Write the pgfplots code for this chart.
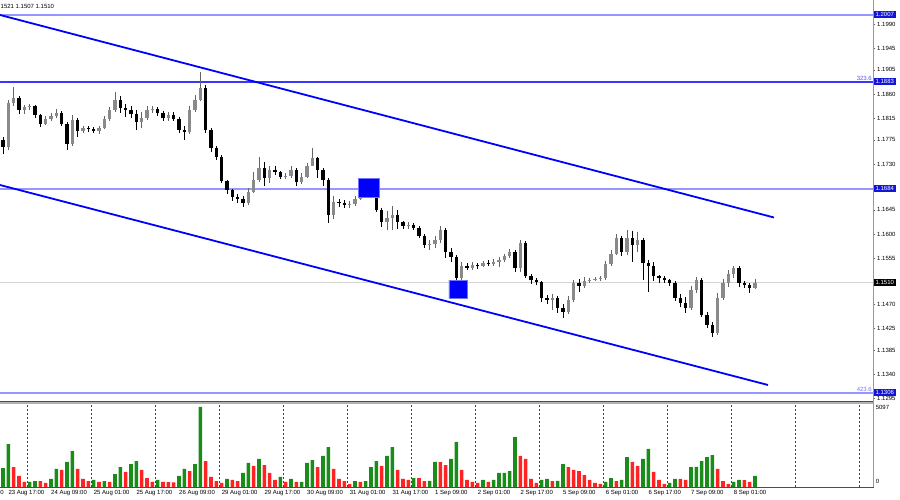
\documentclass[border=0pt]{standalone}
\usepackage{pgfplots}
\pgfplotsset{compat=1.18}
\usepackage{pgfplotstable}
\usepackage{fontspec}
\setmainfont{Liberation Sans}
\definecolor{lvl}{RGB}{150,150,255}
\definecolor{lvlstrong}{RGB}{55,55,255}
\definecolor{chan}{RGB}{0,0,255}
\definecolor{boxblue}{RGB}{20,20,215}
\definecolor{vgreen}{RGB}{25,140,25}
\definecolor{vred}{RGB}{255,35,35}
\definecolor{bullc}{RGB}{138,138,138}
\definecolor{bullw}{RGB}{100,100,100}
\definecolor{lastgray}{RGB}{212,212,212}
\newcommand{\fs}{\fontsize{6}{7}\selectfont}
% bullish (close >= open) candles
\pgfplotstableread{
j o h l c
1 1.1762 1.1849 1.1756 1.1843
2 1.1843 1.1873 1.1838 1.1853
4 1.1830 1.1840 1.1823 1.1836
5 1.1836 1.1841 1.1830 1.1838
8 1.1804 1.1819 1.1803 1.1814
9 1.1814 1.1825 1.1810 1.1819
10 1.1819 1.1832 1.1816 1.1825
13 1.1767 1.1821 1.1764 1.1812
15 1.1791 1.1801 1.1788 1.1797
18 1.1791 1.1801 1.1786 1.1797
19 1.1797 1.1819 1.1795 1.1814
20 1.1814 1.1836 1.1810 1.1830
21 1.1830 1.1864 1.1827 1.1849
26 1.1808 1.1827 1.1797 1.1816
27 1.1816 1.1838 1.1812 1.1830
28 1.1830 1.1838 1.1825 1.1832
31 1.1816 1.1827 1.1810 1.1821
35 1.1790 1.1838 1.1786 1.1830
36 1.1830 1.1858 1.1827 1.1849
37 1.1849 1.1901 1.1847 1.1871
46 1.1658 1.1686 1.1654 1.1678
47 1.1678 1.1715 1.1676 1.1700
48 1.1700 1.1743 1.1697 1.1723
50 1.1704 1.1726 1.1695 1.1719
53 1.1706 1.1713 1.1702 1.1708
54 1.1708 1.1726 1.1704 1.1719
56 1.1697 1.1713 1.1693 1.1706
57 1.1706 1.1732 1.1704 1.1726
58 1.1726 1.1760 1.1726 1.1741
62 1.1636 1.1671 1.1628 1.1660
65 1.1654 1.1661 1.1648 1.1656
66 1.1656 1.1671 1.1652 1.1665
67 1.1665 1.1682 1.1663 1.1676
68 1.1676 1.1693 1.1673 1.1686
72 1.1622 1.1643 1.1608 1.1630
73 1.1630 1.1652 1.1608 1.1636
76 1.1615 1.1622 1.1609 1.1617
80 1.1580 1.1589 1.1571 1.1582
81 1.1582 1.1596 1.1574 1.1589
82 1.1589 1.1615 1.1583 1.1608
86 1.1519 1.1548 1.1515 1.1541
88 1.1537 1.1548 1.1533 1.1543
90 1.1541 1.1550 1.1539 1.1546
92 1.1545 1.1554 1.1541 1.1548
93 1.1548 1.1558 1.1539 1.1552
94 1.1552 1.1563 1.1548 1.1559
95 1.1559 1.1572 1.1556 1.1567
97 1.1537 1.1589 1.1530 1.1583
103 1.1478 1.1489 1.1459 1.1481
106 1.1455 1.1485 1.1452 1.1478
107 1.1478 1.1515 1.1474 1.1509
109 1.1504 1.1520 1.1500 1.1513
110 1.1513 1.1519 1.1509 1.1515
111 1.1515 1.1520 1.1513 1.1517
112 1.1517 1.1522 1.1513 1.1519
113 1.1519 1.1550 1.1515 1.1545
114 1.1545 1.1571 1.1541 1.1563
115 1.1563 1.1600 1.1561 1.1593
117 1.1567 1.1608 1.1561 1.1593
119 1.1580 1.1604 1.1567 1.1589
129 1.1463 1.1504 1.1459 1.1496
130 1.1496 1.1520 1.1491 1.1515
134 1.1416 1.1491 1.1413 1.1481
135 1.1481 1.1517 1.1478 1.1509
136 1.1509 1.1533 1.1502 1.1526
137 1.1526 1.1541 1.1519 1.1537
141 1.1500 1.1517 1.1498 1.1510
}\bull
% bearish (close < open) candles
\pgfplotstableread{
j o h l c
0 1.1775 1.1780 1.1749 1.1762
3 1.1853 1.1856 1.1823 1.1830
6 1.1838 1.1840 1.1816 1.1821
7 1.1821 1.1823 1.1799 1.1804
11 1.1825 1.1829 1.1801 1.1804
12 1.1804 1.1808 1.1756 1.1767
14 1.1812 1.1816 1.1780 1.1791
16 1.1797 1.1801 1.1790 1.1795
17 1.1795 1.1799 1.1788 1.1791
22 1.1849 1.1856 1.1825 1.1834
23 1.1834 1.1841 1.1817 1.1830
24 1.1830 1.1838 1.1816 1.1823
25 1.1823 1.1830 1.1793 1.1808
29 1.1832 1.1836 1.1819 1.1825
30 1.1825 1.1829 1.1810 1.1816
32 1.1821 1.1827 1.1810 1.1814
33 1.1814 1.1817 1.1788 1.1793
34 1.1793 1.1801 1.1775 1.1790
38 1.1871 1.1877 1.1788 1.1793
39 1.1793 1.1797 1.1752 1.1760
40 1.1760 1.1764 1.1738 1.1743
41 1.1743 1.1747 1.1695 1.1699
42 1.1699 1.1700 1.1674 1.1682
43 1.1682 1.1684 1.1661 1.1669
44 1.1669 1.1674 1.1658 1.1665
45 1.1665 1.1671 1.1650 1.1658
49 1.1723 1.1734 1.1689 1.1704
51 1.1719 1.1726 1.1710 1.1715
52 1.1715 1.1717 1.1702 1.1706
55 1.1719 1.1723 1.1689 1.1697
59 1.1741 1.1743 1.1704 1.1719
60 1.1719 1.1723 1.1689 1.1700
61 1.1700 1.1704 1.1621 1.1636
63 1.1660 1.1665 1.1650 1.1658
64 1.1658 1.1663 1.1648 1.1654
69 1.1686 1.1695 1.1676 1.1682
70 1.1682 1.1687 1.1641 1.1645
71 1.1645 1.1648 1.1613 1.1622
74 1.1636 1.1645 1.1609 1.1622
75 1.1622 1.1624 1.1609 1.1615
77 1.1617 1.1621 1.1608 1.1611
78 1.1611 1.1615 1.1593 1.1596
79 1.1596 1.1600 1.1574 1.1580
83 1.1608 1.1611 1.1556 1.1567
84 1.1567 1.1574 1.1548 1.1558
85 1.1558 1.1561 1.1502 1.1519
87 1.1541 1.1546 1.1533 1.1537
89 1.1543 1.1546 1.1535 1.1541
91 1.1546 1.1552 1.1541 1.1545
96 1.1567 1.1571 1.1530 1.1537
98 1.1583 1.1587 1.1519 1.1522
99 1.1522 1.1526 1.1507 1.1515
100 1.1515 1.1519 1.1506 1.1511
101 1.1511 1.1513 1.1474 1.1481
102 1.1481 1.1487 1.1470 1.1478
104 1.1481 1.1485 1.1454 1.1463
105 1.1463 1.1470 1.1444 1.1455
108 1.1509 1.1517 1.1493 1.1504
116 1.1593 1.1596 1.1559 1.1567
118 1.1593 1.1606 1.1548 1.1580
120 1.1589 1.1593 1.1515 1.1546
121 1.1546 1.1552 1.1493 1.1541
122 1.1541 1.1548 1.1513 1.1522
123 1.1522 1.1524 1.1509 1.1519
124 1.1519 1.1522 1.1509 1.1515
125 1.1515 1.1517 1.1504 1.1509
126 1.1509 1.1513 1.1476 1.1481
127 1.1481 1.1489 1.1465 1.1472
128 1.1472 1.1483 1.1454 1.1463
131 1.1515 1.1519 1.1446 1.1450
132 1.1450 1.1455 1.1426 1.1431
133 1.1431 1.1437 1.1409 1.1416
138 1.1537 1.1541 1.1502 1.1509
139 1.1509 1.1513 1.1500 1.1506
140 1.1506 1.1509 1.1491 1.1500
}\bear
% volumes: rising (green)
\pgfplotstableread{
j v
0 1210
1 2739
5 330
6 382
9 510
10 1147
12 1593
13 2293
17 446
19 382
21 828
22 1274
24 1465
25 1656
29 446
33 701
34 1147
36 1465
37 5097
42 510
45 892
46 1529
48 1784
52 637
54 510
56 330
57 1529
58 1720
60 1975
61 2548
66 382
68 382
69 1274
70 1656
72 1975
73 2548
77 573
80 390
81 1593
84 1784
85 2867
90 446
92 446
93 892
94 900
95 1019
96 3185
101 446
102 510
104 390
105 1465
113 319
114 573
116 446
117 1911
120 1784
121 2421
125 255
126 510
129 1274
130 1290
131 1656
132 1911
133 2038
137 319
138 446
141 701
}\volup
% volumes: falling (red)
\pgfplotstableread{
j v
2 1274
3 701
4 319
7 370
8 255
11 1083
14 1147
15 510
16 382
18 319
20 319
23 956
26 1083
27 573
28 319
30 319
31 310
32 300
35 1019
38 1656
39 637
40 382
41 255
43 446
44 382
47 1338
49 1401
50 892
51 446
53 319
55 319
59 1274
62 1147
63 510
64 382
65 191
67 319
71 1338
74 1083
75 510
76 446
78 573
79 382
82 1580
83 1401
86 1083
87 446
88 319
89 255
91 319
97 1975
98 1784
99 510
100 255
103 382
106 1274
107 1083
108 1019
109 764
110 446
111 255
112 191
115 382
118 1593
119 1338
122 956
123 446
124 191
127 510
128 446
134 1147
135 382
136 191
139 440
140 319
}\voldown
\begin{document}
\begin{tikzpicture}
\useasboundingbox (0pt,0pt) rectangle (900pt,500pt);
% ---------------- price panel ----------------
\begin{axis}[
  at={(0pt,500pt)}, anchor=north west,
  scale only axis, width=873pt, height=401pt,
  xmin=-0.5625, xmax=163.125, ymin=1.12904, ymax=1.20345,
  axis line style={draw=none},
  xtick=\empty,
  minor xtick={4.63,16.63,28.63,40.63,52.63,64.63,76.63,88.63,100.63,112.63,124.63,136.63,148.63,160.63},
  xminorgrids, minor tick length=0pt,
  minor grid style={black!75, line width=0.5pt, dash pattern=on 2pt off 2pt},
  ytick={1.1990,1.1945,1.1905,1.1860,1.1815,1.1775,1.1730,1.1645,1.1600,1.1555,1.1470,1.1425,1.1385,1.1340,1.1295},
  yticklabels={1.1990,1.1945,1.1905,1.1860,1.1815,1.1775,1.1730,1.1645,1.1600,1.1555,1.1470,1.1425,1.1385,1.1340,1.1295},
  ytick pos=right, yticklabel pos=right,
  tick align=outside, major tick length=2pt,
  ytick style={black!60, line width=0.5pt},
  yticklabel style={font=\fs, inner xsep=2pt},
  scaled y ticks=false,
  clip mode=individual,
  candle/.style={draw=none, mark=none, forget plot, error bars/.cd, y dir=minus, y explicit, error mark=none},
]
% horizontal levels
\addplot[lvl, line width=2pt] coordinates {(-0.5625,1.2007) (163.125,1.2007)};
\addplot[lvlstrong, line width=2pt] coordinates {(-0.5625,1.1883) (163.125,1.1883)};
\addplot[lvl, line width=2pt] coordinates {(-0.5625,1.1684) (163.125,1.1684)};
\addplot[lastgray, line width=1.5pt] coordinates {(-0.5625,1.1510) (163.125,1.1510)};
\addplot[lvl, line width=2pt] coordinates {(-0.5625,1.1306) (163.125,1.1306)};
% wicks
\addplot[candle, error bar style={line width=0.9pt, draw=bullw}]
  table[x=j, y=h, y error minus expr={\thisrow{h}-\thisrow{l}}] {\bull};
\addplot[candle, error bar style={line width=0.9pt, draw=black}]
  table[x=j, y=h, y error minus expr={\thisrow{h}-\thisrow{l}}] {\bear};
% bodies
\addplot[candle, error bar style={line width=3.1pt, draw=bullc}]
  table[x=j, y=c, y error minus expr={\thisrow{c}-\thisrow{o}}] {\bull};
\addplot[candle, error bar style={line width=3.1pt, draw=black}]
  table[x=j, y=o, y error minus expr={\thisrow{o}-\thisrow{c}}] {\bear};
% channel
\addplot[chan, line width=1.8pt] coordinates {(-0.5625,1.20067) (144.56,1.16309)};
\addplot[chan, line width=1.8pt] coordinates {(-0.5625,1.16912) (143.44,1.13201)};
% squares
\addplot[fill=chan, draw=chan!55, line width=0.7pt] coordinates {(66.6,1.17036) (70.6,1.17036) (70.6,1.16677) (66.6,1.16677) (66.6,1.17036)};
\addplot[fill=chan, draw=chan!55, line width=0.7pt] coordinates {(83.6,1.15149) (87.06,1.15149) (87.06,1.14810) (83.6,1.14810) (83.6,1.15149)};
% level texts and price boxes
\node[anchor=base east, font=\fs, text=lvlstrong!85, inner sep=0pt, xshift=-1pt, yshift=1.2pt] at (axis cs:163.125,1.1883) {323.6};
\node[anchor=base east, font=\fs, text=lvlstrong!70, inner sep=0pt, xshift=-1pt, yshift=1.2pt] at (axis cs:163.125,1.1306) {423.6};
\node[fill=boxblue, text=white, font=\fs, anchor=west, inner xsep=1.8pt, inner ysep=0.6pt, text height=4.6pt, text depth=1.2pt, xshift=0.6pt] at (axis cs:163.125,1.2007) {1.2007};
\node[fill=boxblue, text=white, font=\fs, anchor=west, inner xsep=1.8pt, inner ysep=0.6pt, text height=4.6pt, text depth=1.2pt, xshift=0.6pt] at (axis cs:163.125,1.1883) {1.1883};
\node[fill=boxblue, text=white, font=\fs, anchor=west, inner xsep=1.8pt, inner ysep=0.6pt, text height=4.6pt, text depth=1.2pt, xshift=0.6pt] at (axis cs:163.125,1.1684) {1.1684};
\node[fill=boxblue, text=white, font=\fs, anchor=west, inner xsep=1.8pt, inner ysep=0.6pt, text height=4.6pt, text depth=1.2pt, xshift=0.6pt] at (axis cs:163.125,1.1306) {1.1306};
\node[fill=black, text=white, font=\fs, anchor=west, inner xsep=1.8pt, inner ysep=0.6pt, text height=4.6pt, text depth=1.2pt, xshift=0.6pt] at (axis cs:163.125,1.1510) {1.1510};
\end{axis}
% ---------------- volume panel ----------------
\begin{axis}[
  at={(0pt,13pt)}, anchor=south west,
  scale only axis, width=873pt, height=84pt,
  xmin=-0.5625, xmax=163.125, ymin=0, ymax=5352,
  axis line style={draw=none},
  ytick=\empty,
  xtick={1,9,...,137},
  xticklabels={23 Aug 17:00,24 Aug 09:00,25 Aug 01:00,25 Aug 17:00,26 Aug 09:00,29 Aug 01:00,29 Aug 17:00,30 Aug 09:00,31 Aug 01:00,31 Aug 17:00,1 Sep 09:00,2 Sep 01:00,2 Sep 17:00,5 Sep 09:00,6 Sep 01:00,6 Sep 17:00,7 Sep 09:00,8 Sep 01:00},
  xtick pos=left, tick align=inside, major tick length=2pt,
  xtick style={black!70, line width=0.5pt},
  xticklabel style={font=\fs, anchor=base west, inner xsep=0pt, yshift=-8pt},
  minor xtick={4.63,16.63,28.63,40.63,52.63,64.63,76.63,88.63,100.63,112.63,124.63,136.63,148.63,160.63},
  xminorgrids, minor tick length=0pt,
  minor grid style={black!75, line width=0.5pt, dash pattern=on 2pt off 2pt},
  clip mode=individual,
]
\addplot[ybar, bar width=3.6pt, bar shift=0pt, fill=vgreen, draw=none] table[x=j, y=v] {\volup};
\addplot[ybar, bar width=3.6pt, bar shift=0pt, fill=vred, draw=none] table[x=j, y=v] {\voldown};
\node[anchor=west, font=\fs, inner sep=0pt, xshift=2.6pt] at (axis cs:163.125,5097) {5097};
\node[anchor=west, font=\fs, inner sep=0pt, xshift=2.6pt] at (axis cs:163.125,340) {0};
\end{axis}
% frame lines
\draw[black!70, line width=1pt] (0pt,98.5pt) -- (873pt,98.5pt);
\draw[black!30, line width=1.3pt] (0pt,97.1pt) -- (873pt,97.1pt);
\draw[black!70, line width=0.9pt] (0pt,13pt) -- (873.5pt,13pt);
\draw[black!40, line width=1.5pt] (873.3pt,500pt) -- (873.3pt,12.6pt);
% header and the visible end of the cut-off first date label
\node[anchor=base west, font=\fs, inner sep=0pt] at (0.5pt,491.5pt) {1521 1.1507 1.1510};
\node[anchor=base west, font=\fs, inner sep=0pt] at (0.2pt,5pt) {0};
\end{tikzpicture}
\end{document}
